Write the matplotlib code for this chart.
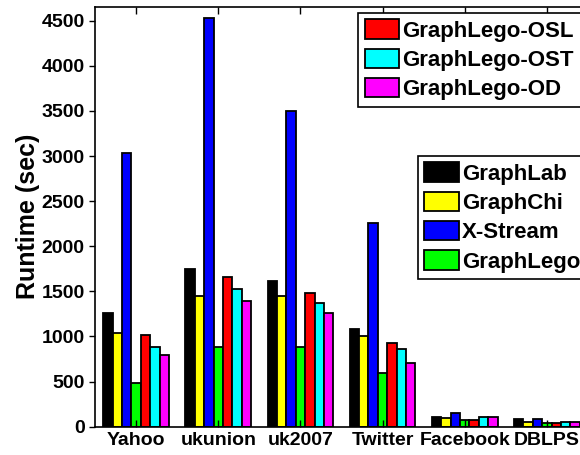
import numpy as np
import matplotlib
matplotlib.use("Agg")
import matplotlib.pyplot as plt

plt.rcParams['font.family'] = ['Liberation Sans', 'DejaVu Sans']
plt.rcParams['font.weight'] = 'bold'

# --------------------------
# DATA
# --------------------------
datasets = ['Yahoo', 'ukunion', 'uk2007', 'Twitter', 'Facebook', 'DBLPS']
systems = ['GraphLab', 'GraphChi', 'X-Stream', 'GraphLego',
           'GraphLego-OSL', 'GraphLego-OST', 'GraphLego-OD']
colors = ['black', 'yellow', 'blue', '#00ff00', 'red', 'cyan', 'magenta']

graphlab  = [1264, 1752, 1619, 1087, 111, 89]
graphchi  = [1035, 1452, 1452, 1009, 93, 55]
xstream   = [3038, 4528, 3503, 2262, 155, 85]
graphlego = [481, 884, 882, 592, 74, 37]
gl_osl    = [1013, 1656, 1486, 925, 74, 37]
gl_ost    = [880, 1527, 1368, 861, 111, 55]
gl_od     = [795, 1397, 1257, 703, 111, 55]

series = [graphlab, graphchi, xstream, graphlego, gl_osl, gl_ost, gl_od]

# --------------------------
# FIGURE
# --------------------------
fig = plt.figure(figsize=(5.8, 4.55), dpi=100)
ax = fig.add_axes([95 / 580, 28.3 / 455, 493 / 580, 420 / 455])

x = np.arange(1, len(datasets) + 1)
w = 0.8 / len(series)
bars = []
for i, (vals, c) in enumerate(zip(series, colors)):
    b = ax.bar(x + (i - 3) * w, vals, w, color=c, edgecolor='black',
               linewidth=1.3, label=systems[i])
    bars.append(b)

ax.set_xlim(0.5, len(datasets) + 0.5)
ax.set_ylim(0, 4656)
ax.set_yticks(np.arange(0, 4501, 500))
ax.set_xticks(x)
ax.set_xticklabels(datasets, fontsize=14, fontweight='bold')
ax.tick_params(axis='y', labelsize=14, direction='out', length=4, width=1)
ax.tick_params(axis='x', direction='in', top=True, length=5, width=1, pad=4)
ax.set_ylabel('Runtime (sec)', fontsize=18, fontweight='bold', labelpad=1)
for s in ax.spines.values():
    s.set_linewidth(1.2)

# two separate legend boxes, as in the original
leg_kw = dict(frameon=True, fancybox=False, framealpha=1,
              edgecolor='black', borderaxespad=0, borderpad=0.3,
              handlelength=1.55, handleheight=0.95, handletextpad=0.15,
              labelspacing=0.32, loc='upper left')
prop = {'weight': 'bold', 'size': 16}

leg1 = fig.legend(bars[4:], systems[4:], bbox_to_anchor=(358 / 580, 1 - 12.7 / 455),
                  prop=prop, **leg_kw)
leg2 = fig.legend(bars[:4], systems[:4], bbox_to_anchor=(417.7 / 580, 1 - 155.7 / 455),
                  prop=prop, **leg_kw)
for lg in (leg1, leg2):
    lg.get_frame().set_linewidth(1.2)

fig.savefig('out.png', dpi=100)
